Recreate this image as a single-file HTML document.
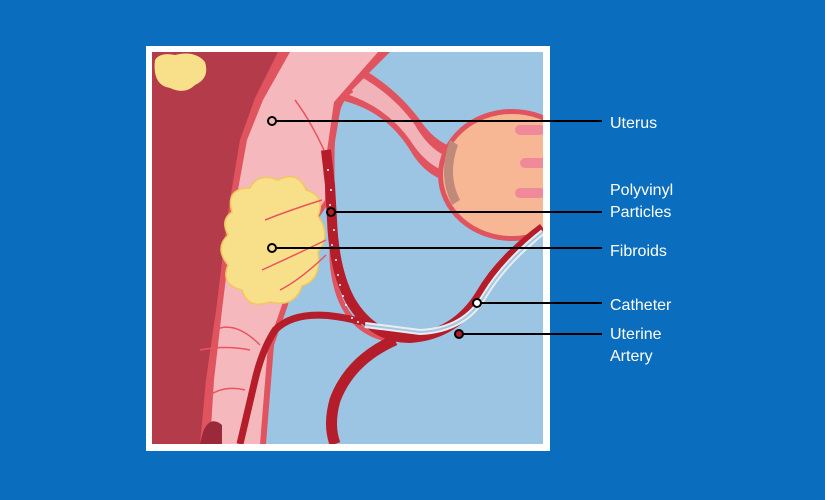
<!DOCTYPE html>
<html><head><style>
html,body{margin:0;padding:0;background:#0b6dbd;width:825px;height:500px;overflow:hidden}
svg{position:absolute;left:0;top:0}
text{font-family:"Liberation Sans",sans-serif;font-size:16px;fill:#fff}
</style></head><body>
<svg width="825" height="500" viewBox="0 0 825 500">
<rect x="146" y="46" width="404" height="405" fill="#fff"/>
<clipPath id="c"><rect x="152" y="52" width="391" height="392"/></clipPath>
<g clip-path="url(#c)">
<rect x="152" y="52" width="391" height="392" fill="#9cc5e4"/>
<!-- dark maroon -->
<path d="M152 52 L372 52 L330 70 L290 95 L262 125 L246 170 L234 230 L224 310 L214 380 L208 444 L152 444Z" fill="#b43b4a"/>
<path d="M300 62 L268 90 L246 130 L232 190 L222 260 L212 340 L204 410 L200 444 L214 444 L218 380 L226 310 L236 230 L246 170 L262 125 L290 95Z" fill="#9a2a3a"/>
<!-- fallopian tube -->
<path d="M345 60 Q390 80 420 120 Q440 150 470 150 L470 185 Q430 185 410 150 Q385 110 340 100Z" fill="#e0545f"/>
<path d="M348 70 Q390 90 415 125 Q435 160 465 160 L465 175 Q432 175 410 140 Q385 105 340 92Z" fill="#f2b3b8"/>
<!-- ovary -->
<ellipse cx="512" cy="175" rx="74" ry="66" fill="#e0545f"/>
<ellipse cx="512" cy="175" rx="69" ry="61" fill="#f7b795"/>
<path d="M450 140 Q437 175 452 205 L460 200 Q447 175 458 145Z" fill="#c08a7a"/>
<rect x="515" y="125" width="30" height="10" rx="5" fill="#f08a9a"/>
<rect x="520" y="158" width="30" height="10" rx="5" fill="#f08a9a"/>
<rect x="515" y="188" width="30" height="10" rx="5" fill="#f08a9a"/>
<!-- pink uterus body with red border -->
<path d="M278 52 L390 52 L342 100 L331 165 L331 200 L300 245 L288 305 L274 345 L266 444 L200 444 L206 380 L216 310 L228 212 L240 140 L255 98 Z" fill="#e0545f"/>
<path d="M290 52 L378 52 L334 102 L325 165 L325 200 L292 250 L282 305 L268 345 L260 444 L210 444 L214 380 L222 310 L234 212 L247 140 L263 100 Z" fill="#f5b9bd"/>
<path d="M203 432 Q210 415 222 425 L222 444 L200 444Z" fill="#9a2a3a"/>
<!-- loop artery outline (top) -->
<path d="M352 90 Q332 100 332 160 L332 260 Q337 330 390 340" stroke="#e0545f" stroke-width="5" fill="none"/>
<!-- artery main -->
<path d="M543 228 Q500 260 480 295 Q455 335 410 338 Q372 338 350 300 Q334 270 332 220 L330 185 L326 150" stroke="#b51d2a" stroke-width="10" fill="none"/>
<path d="M395 340 Q350 360 335 400 Q328 425 335 444" stroke="#b51d2a" stroke-width="11" fill="none"/>
<path d="M362 322 Q300 305 275 330 Q262 350 255 380 L240 444" stroke="#b51d2a" stroke-width="7" fill="none"/>
<!-- catheter -->
<path d="M543 232 Q505 262 485 295 Q465 330 420 332 L365 325" stroke="#e6eef4" stroke-width="6" fill="none"/>
<path d="M543 232 Q505 262 485 295 Q465 330 420 332 L365 325" stroke="#a8c6dc" stroke-width="2" fill="none"/>
<!-- particles -->
<g fill="#fff">
<circle cx="328" cy="170" r="1"/><circle cx="331" cy="190" r="1"/><circle cx="334" cy="230" r="1"/><circle cx="336" cy="260" r="1"/><circle cx="340" cy="285" r="1"/><circle cx="346" cy="305" r="1"/><circle cx="352" cy="318" r="1"/><circle cx="332" cy="245" r="1"/><circle cx="338" cy="275" r="1"/><circle cx="343" cy="296" r="1"/><circle cx="358" cy="322" r="1"/><circle cx="330" cy="205" r="1"/>
</g>
<!-- fibroid -->
<path d="M232 212 Q225 188 250 188 Q258 172 278 180 Q298 170 306 190 Q326 196 318 216 Q332 235 318 252 Q322 280 302 286 Q295 308 270 302 Q248 310 242 290 Q220 285 228 265 Q214 248 228 235 Q220 220 232 212Z" fill="#f8df8a" stroke="#f0c860" stroke-width="1.5"/>
<!-- top-left small fibroid -->
<path d="M155 60 Q160 52 175 55 Q195 50 205 62 Q210 78 195 85 Q185 95 170 88 Q152 85 155 60Z" fill="#f8df8a"/>
<!-- vessels -->
<g stroke="#e8545f" stroke-width="1.5" fill="none">
<path d="M324 150 Q310 120 295 100"/><path d="M322 200 Q290 210 265 220"/><path d="M326 240 Q295 255 262 270"/><path d="M326 255 Q300 280 280 290"/>
<path d="M250 350 Q225 345 200 350"/><path d="M245 390 Q225 385 210 395"/><path d="M260 345 Q235 320 215 330"/>
</g>
</g>
<!-- leader lines -->
<g stroke="#000" stroke-width="2">
<line x1="272" y1="121" x2="602" y2="121"/>
<line x1="331" y1="212" x2="602" y2="212"/>
<line x1="272" y1="248" x2="602" y2="248"/>
<line x1="477" y1="303" x2="602" y2="303"/>
<line x1="459" y1="334" x2="602" y2="334"/>
</g>
<g stroke="#000" stroke-width="2">
<circle cx="272" cy="121" r="4" fill="#f5b9bd"/>
<circle cx="331" cy="212" r="4" fill="#b51d2a"/>
<circle cx="272" cy="248" r="4" fill="#f8df8a"/>
<circle cx="477" cy="303" r="4" fill="#fff"/>
<circle cx="459" cy="334" r="4" fill="#b51d2a"/>
</g>
<text x="610" y="128">Uterus</text>
<text x="610" y="195">Polyvinyl</text>
<text x="610" y="217">Particles</text>
<text x="610" y="256">Fibroids</text>
<text x="610" y="310">Catheter</text>
<text x="610" y="339">Uterine</text>
<text x="610" y="361">Artery</text>
</svg>
</body></html>
